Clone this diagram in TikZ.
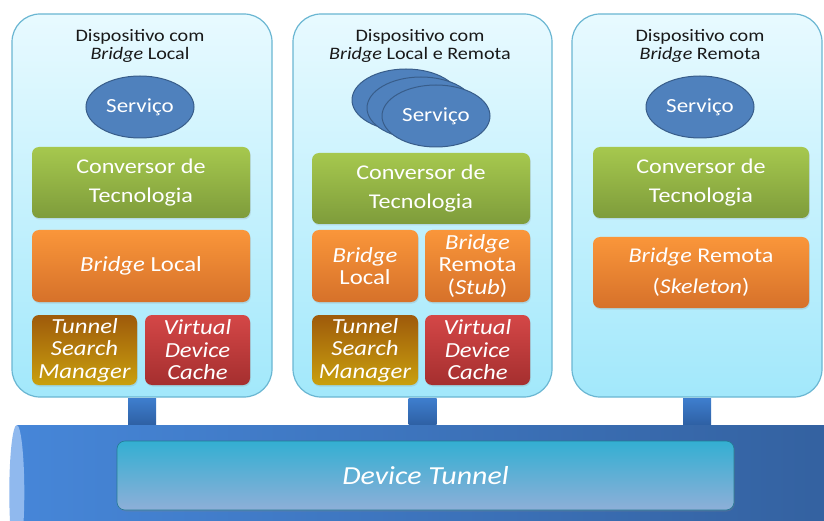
\documentclass[tikz,border=0pt]{standalone}
\usepackage{fontspec}
\setmainfont{Carlito}[FakeStretch=1.15]
\usetikzlibrary{shapes.geometric}
\usetikzlibrary{shadows}
\definecolor{devtop}{HTML}{E8FAFF}
\definecolor{devbot}{HTML}{A2E8FB}
\definecolor{devline}{HTML}{6AB6D2}
\definecolor{svcfill}{HTML}{4F81BD}
\definecolor{svcline}{HTML}{385D8A}
\definecolor{grntop}{HTML}{A6C84E}
\definecolor{grnbot}{HTML}{7E9C3B}
\definecolor{orgtop}{HTML}{FA963A}
\definecolor{orgbot}{HTML}{D6712A}
\definecolor{tsmtop}{HTML}{9E5A0B}
\definecolor{tsmbot}{HTML}{C9A00E}
\definecolor{vdctop}{HTML}{D44747}
\definecolor{vdcbot}{HTML}{A52F2F}
\definecolor{tubeleft}{HTML}{4686D8}
\definecolor{tuberight}{HTML}{33609E}
\definecolor{tubecap}{HTML}{90B9EE}
\definecolor{dttop}{HTML}{33AFD2}
\definecolor{dtbot}{HTML}{8EAFD8}
\definecolor{stemtop}{HTML}{3E7ECE}
\definecolor{stembot}{HTML}{2E60A4}

\begin{document}
\begin{tikzpicture}[x=1pt,y=-1pt,
dev/.style={draw=devline, line width=1.2pt, rounded corners=28pt, top color=devtop, bottom color=devbot, minimum height=383pt, inner sep=0pt},
ttl/.style={align=center, text=black!90, font=\fontsize{17.5}{17.5}\selectfont},
svc/.style={ellipse, draw=svcline, line width=1pt, fill=svcfill, text=white, minimum width=108pt, minimum height=62pt, inner sep=0pt, font=\fontsize{20}{24}\selectfont},
blk/.style={rounded corners=7pt, text=white, align=center, inner sep=0pt, drop shadow={opacity=0.2, shadow xshift=0.8pt, shadow yshift=-1.5pt}},
bigblk/.style={blk, minimum height=71pt, font=\fontsize{21}{29}\selectfont},
smallblk/.style={blk, minimum height=70pt, font=\fontsize{21.5}{22.5}\selectfont},
greenblk/.style={top color=grntop, bottom color=grnbot},
orangeblk/.style={top color=orgtop, bottom color=orgbot},
tsmblk/.style={top color=tsmtop, bottom color=tsmbot},
vdcblk/.style={top color=vdctop, bottom color=vdcbot},
stembar/.style={top color=stemtop, bottom color=stembot, draw=none}]
\useasboundingbox (0,0) rectangle (824,521);
\clip (0,0) rectangle (824,521);
% dispositivos
\node[dev, minimum width=260pt] (dev1) at (142,205.5) {};
\node[dev, minimum width=259pt] (dev2) at (422.5,205.5) {};
\node[dev, minimum width=250pt] (dev3) at (697,205.5) {};
\node[ttl] (ttl1) at (140,46) {Dispositivo com\\\textit{Bridge} Local};
\node[ttl] (ttl2) at (420,46) {Dispositivo com\\\textit{Bridge} Local e Remota};
\node[ttl] (ttl3) at (700,46) {Dispositivo com\\\textit{Bridge} Remota};
% servicos
\node[svc] (svc1) at (140,107) {Serviço};
\node[svc] (svc2c) at (406,100) {};
\node[svc] (svc2b) at (421,108) {};
\node[svc] (svc2) at (436,116) {Serviço};
\node[svc] (svc3) at (700,107) {Serviço};
% blocos
\node[bigblk, greenblk, minimum width=218pt] (conv1) at (141,182.5) {Conversor de\\Tecnologia};
\node[bigblk, orangeblk, minimum width=218pt, minimum height=72pt, font=\fontsize{21.5}{29}\selectfont] (brl1) at (141,266) {\textit{Bridge} Local};
\node[smallblk, tsmblk, minimum width=105pt] (tsm1) at (84.5,350) {\textit{Tunnel}\\\textit{Search}\\\textit{Manager}};
\node[smallblk, vdcblk, minimum width=105pt] (vdc1) at (197.5,350) {\textit{Virtual}\\\textit{Device}\\\textit{Cache}};
\node[bigblk, greenblk, minimum width=218pt] (conv2) at (421,188.5) {Conversor de\\Tecnologia};
\node[smallblk, orangeblk, minimum width=106pt, minimum height=72pt] (brl2) at (365,266) {\textit{Bridge}\\Local};
\node[smallblk, orangeblk, minimum width=105pt, minimum height=72pt] (brr2) at (477.5,266) {\textit{Bridge}\\Remota\\(\textit{Stub})};
\node[smallblk, tsmblk, minimum width=106pt] (tsm2) at (365,350) {\textit{Tunnel}\\\textit{Search}\\\textit{Manager}};
\node[smallblk, vdcblk, minimum width=105pt] (vdc2) at (477.5,350) {\textit{Virtual}\\\textit{Device}\\\textit{Cache}};
\node[bigblk, greenblk, minimum width=216pt] (conv3) at (701,182.5) {Conversor de\\Tecnologia};
\node[bigblk, orangeblk, minimum width=216pt, font=\fontsize{21}{31}\selectfont] (brr3) at (701,272.5) {\textit{Bridge} Remota\\(\textit{Skeleton})};
% tunel
\node[left color=tubeleft, right color=tuberight, minimum width=843pt, minimum height=135pt, inner sep=0pt] (tube) at (438.5,492.5) {};
\fill[tubecap] (tube.west) ellipse [x radius=7.5, y radius=67.5];
\node[rounded corners=8pt, top color=dttop, bottom color=dtbot, draw=dttop!70!black, line width=0.6pt, minimum width=617pt, minimum height=69pt, text=white, font=\fontsize{26}{30}\selectfont\itshape, drop shadow={opacity=0.25, shadow xshift=0.8pt, shadow yshift=-1.5pt}] (dt) at (425.5,475.5) {Device Tunnel};
% ligacoes
\foreach \d in {dev1,dev2,dev3}
  \path[stembar] ([xshift=-14pt,yshift=-0.6pt]\d.south) rectangle ([xshift=14pt]\d.south |- tube.north);
\end{tikzpicture}
\end{document}
